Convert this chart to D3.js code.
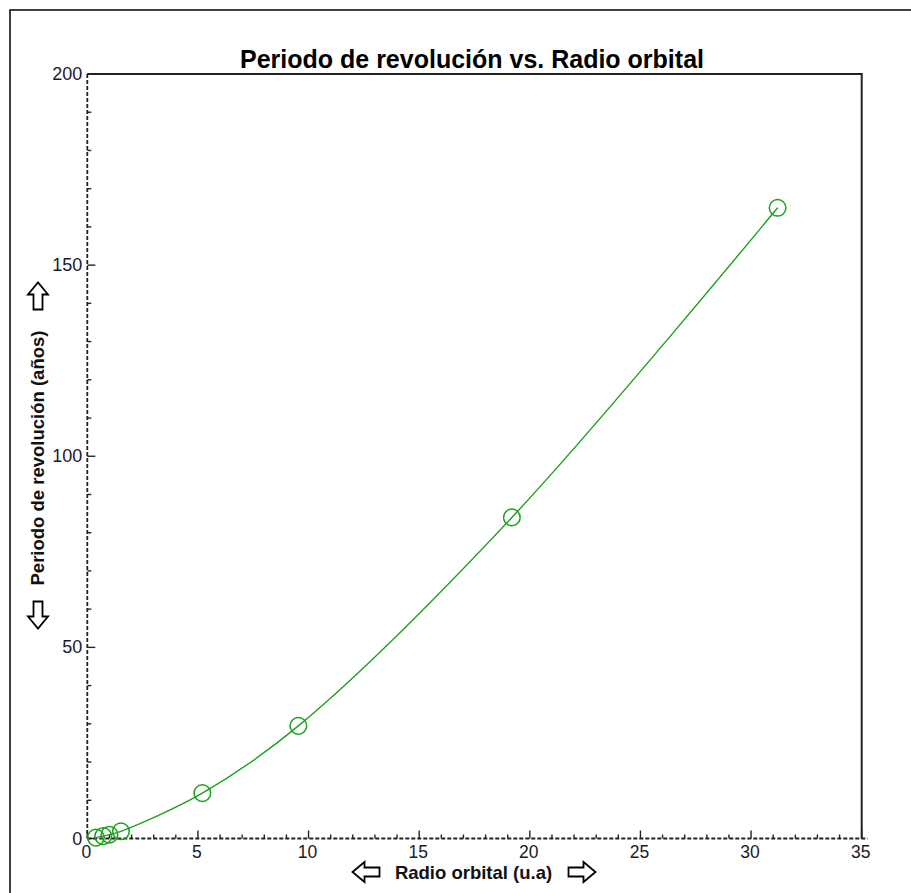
<!DOCTYPE html>
<html><head><meta charset="utf-8">
<script src="https://cdn.jsdelivr.net/npm/d3@7"></script>
<style>body{margin:0;background:#fff}svg{display:block}</style>
</head><body>
<script>
const radio = [0.39, 0.72, 1.0, 1.52, 5.2, 9.54, 19.19, 31.2];
const periodo = [0.24, 0.62, 1.0, 1.88, 11.86, 29.46, 84.0, 165.0];
const xTicks = [0, 5, 10, 15, 20, 25, 30, 35];
const yTicks = [0, 50, 100, 150, 200];
const title = "Periodo de revolución vs. Radio orbital";
const xLabel = "Radio orbital (u.a)";
const yLabel = "Periodo de revolución (años)";

(function(){
const W = 911, H = 893;
const svg = d3.select("body").append("svg").attr("width", W).attr("height", H);
const pL = 87.3, pR = 861.7, pT = 74, pB = 838.5;
const x = d3.scaleLinear().domain([0, 35]).range([pL, pR]);
const y = d3.scaleLinear().domain([0, 200]).range([pB, pT]);
const font = "'Liberation Sans', Arial, sans-serif";

// outer frame
svg.append("rect").attr("x", 10).attr("y", 10).attr("width", W + 20).attr("height", H + 20)
  .attr("fill", "none").attr("stroke", "#111").attr("stroke-width", 1.6);

// top & right border (solid)
svg.append("path").attr("d", `M${pL},${pT}H${pR}V${pB}`)
  .attr("fill", "none").attr("stroke", "#222").attr("stroke-width", 2);

// x axis (dashed)
const xg = svg.append("g").attr("transform", `translate(0,${pB})`);
xg.append("line").attr("x1", pL).attr("x2", pR + 6).attr("y1", 0).attr("y2", 0)
  .attr("stroke", "#222").attr("stroke-width", 1.8).attr("stroke-dasharray", "4,2");
const xMinor = d3.range(0, 35.01, 1).filter(v => v % 5 !== 0);
xg.selectAll(".xmin").data(xMinor).join("line")
  .attr("x1", d => x(d)).attr("x2", d => x(d)).attr("y1", 0).attr("y2", -4)
  .attr("stroke", "#222").attr("stroke-width", 1.4);
xg.selectAll(".xmaj").data(xTicks).join("line")
  .attr("x1", d => x(d)).attr("x2", d => x(d)).attr("y1", 0).attr("y2", -8)
  .attr("stroke", "#222").attr("stroke-width", 1.4);
xg.selectAll(".xl").data(xTicks).join("text")
  .attr("x", d => x(d) - 1).attr("y", 19).attr("text-anchor", "middle")
  .attr("font-family", font).attr("font-size", 17.5).attr("fill", "#1a1a2a").text(d => d);

// y axis (dashed)
const yg = svg.append("g").attr("transform", `translate(${pL},0)`);
yg.append("line").attr("x1", 0).attr("x2", 0).attr("y1", pT).attr("y2", pB)
  .attr("stroke", "#222").attr("stroke-width", 1.8).attr("stroke-dasharray", "4,2");
const yMinor = d3.range(0, 200.01, 10).filter(v => v % 50 !== 0);
yg.selectAll(".ymin").data(yMinor).join("line")
  .attr("x1", 0).attr("x2", 4).attr("y1", d => y(d)).attr("y2", d => y(d))
  .attr("stroke", "#222").attr("stroke-width", 1.4);
yg.selectAll(".ymaj").data(yTicks).join("line")
  .attr("x1", 0).attr("x2", 8).attr("y1", d => y(d)).attr("y2", d => y(d))
  .attr("stroke", "#222").attr("stroke-width", 1.4);
yg.selectAll(".yl").data(yTicks).join("text")
  .attr("x", -5).attr("y", d => y(d) + 6).attr("text-anchor", "end")
  .attr("font-family", font).attr("font-size", 18).attr("fill", "#1a1a2a").text(d => d);

// title
svg.append("text").attr("x", 472).attr("y", 68).attr("text-anchor", "middle")
  .attr("font-family", font).attr("font-weight", "bold").attr("font-size", 25)
  .attr("fill", "#000").text(title);

// x label
svg.append("text").attr("x", 473.5).attr("y", 879).attr("text-anchor", "middle")
  .attr("font-family", font).attr("font-weight", "bold").attr("font-size", 18.5)
  .attr("fill", "#111").text(xLabel);
// y label
svg.append("text").attr("transform", "translate(44,458) rotate(-90)").attr("text-anchor", "middle")
  .attr("font-family", font).attr("font-weight", "bold").attr("font-size", 18.5)
  .attr("fill", "#111").text(yLabel);

// hollow arrows
function arrow(cx, cy, rot) {
  const p = "M-13.5,-4.5 H1.5 V-10 L13.5,0 L1.5,10 V4.5 H-13.5 Z";
  svg.append("path").attr("d", p).attr("transform", `translate(${cx},${cy}) rotate(${rot})`)
    .attr("fill", "#fff").attr("stroke", "#000").attr("stroke-width", 1.8).attr("stroke-linejoin", "miter");
}
arrow(366, 872, 180);
arrow(582, 872, 0);
arrow(38, 296, -90);
arrow(38, 615, 90);

// series line
const pts = radio.map((r, i) => [r, periodo[i]]);
const line = d3.line().x(d => x(d[0])).y(d => y(d[1])).curve(d3.curveCatmullRom.alpha(0.5));
svg.append("path").datum(pts).attr("d", line).attr("fill", "none")
  .attr("stroke", "#1aa01a").attr("stroke-width", 1.4);
svg.selectAll(".pt").data(pts).join("circle")
  .attr("cx", d => x(d[0])).attr("cy", d => y(d[1])).attr("r", 8.3)
  .attr("fill", "none").attr("stroke", "#1aa01a").attr("stroke-width", 1.5);
})();
</script>
</body></html>
